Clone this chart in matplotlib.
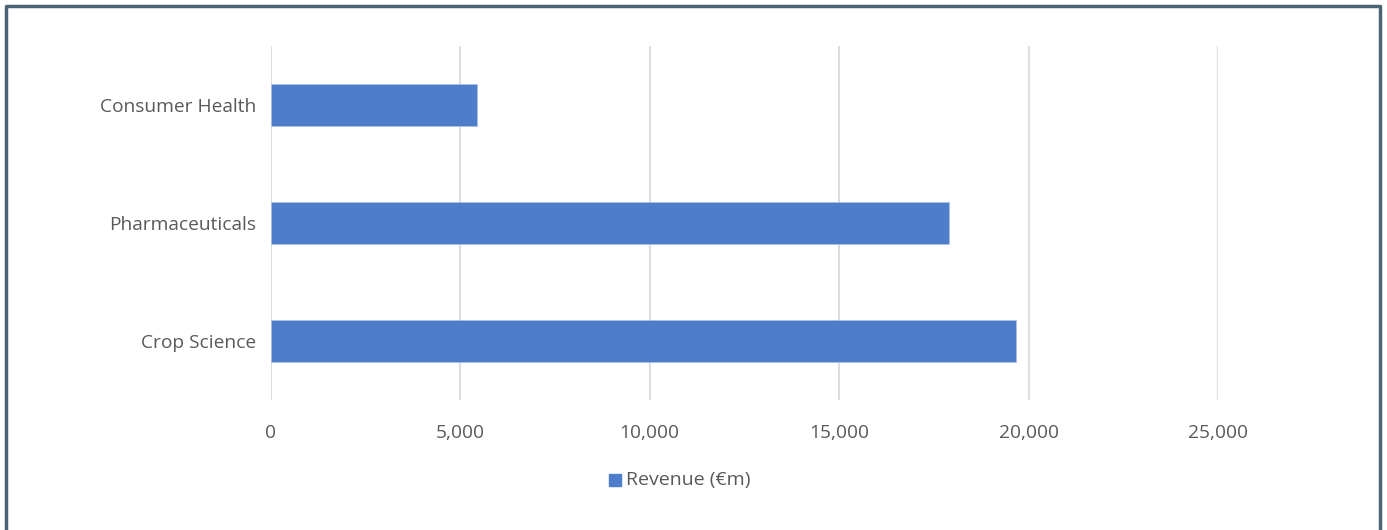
import matplotlib.pyplot as plt
from matplotlib.lines import Line2D
from matplotlib.ticker import FuncFormatter

categories = ["Crop Science", "Pharmaceuticals", "Consumer Health"]
revenue = [19680, 17910, 5460]
x_ticks = [0, 5000, 10000, 15000, 20000, 25000]
series_name = "Revenue (€m)"

BAR = "#4e7dc9"
TXT = "#595959"
GRID = "#dedede"
FRAME = "#4a6477"

plt.rcParams["font.family"] = ["Open Sans", "DejaVu Sans"]

W, H = 1387, 530
fig = plt.figure(figsize=(W / 100, H / 100), dpi=100)
ax = fig.add_axes([270.5 / W, 1 - 400 / H, (1218 - 270.5) / W, (400 - 46) / H])

ax.barh(range(len(categories)), revenue, height=0.355, color=BAR,
        edgecolor="#a9c1e8", linewidth=0.6, zorder=3)

ax.set_xlim(0, 25000)
ax.set_ylim(-0.5, len(categories) - 0.5)
ax.set_xticks(x_ticks)
ax.xaxis.set_major_formatter(FuncFormatter(lambda v, p: f"{int(v):,}"))
ax.set_yticks(range(len(categories)))
ax.set_yticklabels(categories)
ax.tick_params(axis="both", length=0, labelsize=13.8, colors=TXT)
ax.tick_params(axis="x", pad=17)
ax.tick_params(axis="y", pad=10.5)
ax.grid(axis="x", color=GRID, linewidth=1.5, zorder=0)
for s in ax.spines.values():
    s.set_visible(False)

# legend
fig.patches.append(plt.Rectangle((609 / W, 1 - 486 / H), 12 / W, 12 / H,
                                 transform=fig.transFigure, color=BAR))
fig.text(626 / W, 1 - 480 / H, series_name, fontsize=14, color=TXT,
         va="center", ha="left")

# outer frame (left, top, right)
fig.lines.append(Line2D([6 / W, 6 / W, 1379.5 / W, 1379.5 / W],
                        [0, 1 - 6 / H, 1 - 6 / H, 0],
                        transform=fig.transFigure, color=FRAME, linewidth=2.5))

fig.savefig("out.png", dpi=100, facecolor="white")
